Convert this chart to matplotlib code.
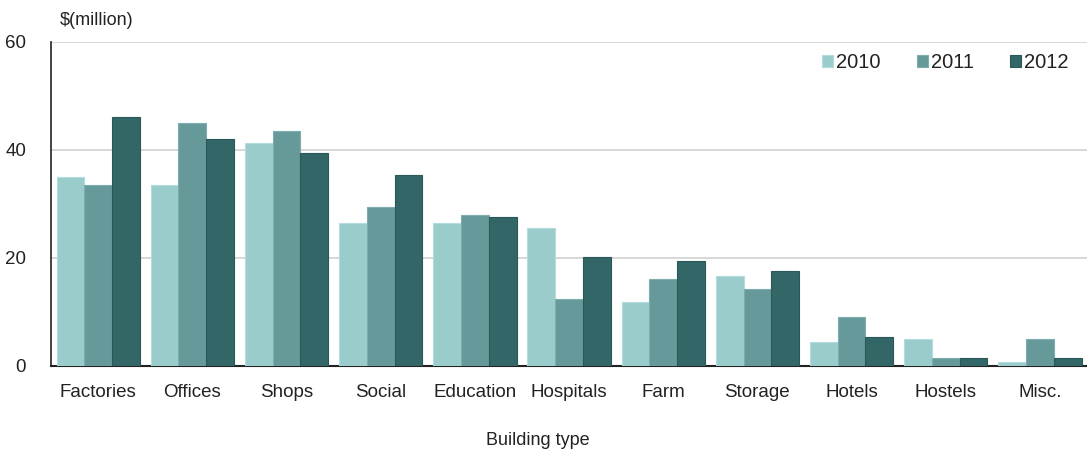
import numpy as np
import matplotlib
matplotlib.use('Agg')
import matplotlib.pyplot as plt

plt.rcParams['font.family'] = ['Liberation Sans', 'DejaVu Sans']

categories = ['Factories', 'Offices', 'Shops', 'Social', 'Education', 'Hospitals',
              'Farm', 'Storage', 'Hotels', 'Hostels', 'Misc.']
years = ['2010', '2011', '2012']
v2010 = [35.0, 33.5, 41.2, 26.4, 26.4, 25.6, 11.9, 16.7, 4.5, 4.9, 0.8]
v2011 = [33.5, 45.0, 43.5, 29.4, 27.9, 12.3, 16.0, 14.2, 9.0, 1.5, 4.9]
v2012 = [46.0, 42.0, 39.4, 35.4, 27.5, 20.1, 19.4, 17.5, 5.3, 1.5, 1.5]
colors = ['#9bcccc', '#669999', '#336666']
edges = ['#b5dcdc', '#7fadad', '#2a5858']

fig = plt.figure(figsize=(10.87, 4.5), dpi=100)
ax = fig.add_axes([0.047, 0.187, 0.953, 0.72])

x = np.arange(len(categories))
w = 0.295
for i, (vals, yr) in enumerate(zip([v2010, v2011, v2012], years)):
    ax.bar(x + (i - 1) * w, vals, width=w, color=colors[i], edgecolor=edges[i],
           linewidth=0.8, label=yr, zorder=3)

ax.set_xlim(-0.5, len(categories) - 0.5)
ax.set_ylim(0, 60)
ax.set_yticks([0, 20, 40, 60])
ax.yaxis.grid(True, color='#d4d4d4', linewidth=1.3, zorder=0)
ax.set_axisbelow(True)
for s in ['top', 'right']:
    ax.spines[s].set_visible(False)
ax.spines['left'].set_color('#222222')
ax.spines['left'].set_linewidth(1.2)
ax.spines['bottom'].set_color('#222222')
ax.spines['bottom'].set_linewidth(1.5)

ax.set_xticks(x)
ax.set_xticklabels(categories, fontsize=13.5, color='#222222')
ax.tick_params(axis='x', length=0, pad=13)
ax.tick_params(axis='y', length=0, pad=18, labelsize=13.5, labelcolor='#222222')

ax.set_xlabel('Building type', fontsize=13, color='#222222')
ax.xaxis.set_label_coords(0.47, -0.205)
ax.text(0.008, 1.04, '$(million)', transform=ax.transAxes, fontsize=13,
        color='#222222', ha='left', va='bottom')

ax.legend(loc='upper right', bbox_to_anchor=(1.0, 1.02), ncol=3, frameon=False,
          fontsize=14.5, handlelength=0.55, handleheight=0.55, handletextpad=0.15,
          columnspacing=1.8, labelcolor='#222222')

fig.savefig('out.png', dpi=100)
